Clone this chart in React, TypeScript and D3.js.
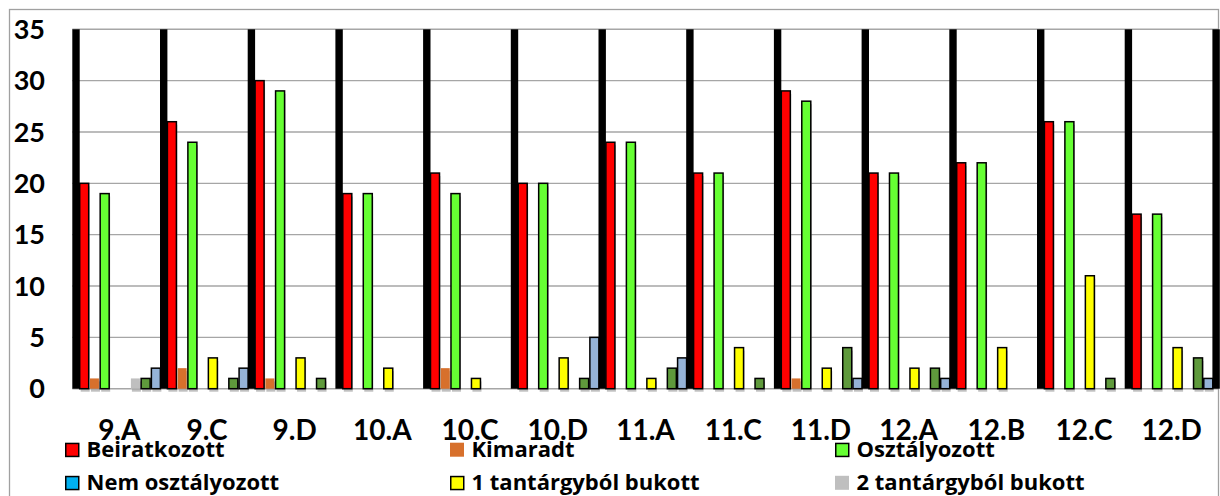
import React from 'react';
import * as d3 from 'd3';

const categories = ['9.A', '9.C', '9.D', '10.A', '10.C', '10.D', '11.A', '11.C', '11.D', '12.A', '12.B', '12.C', '12.D'];
const beiratkozott = [20, 26, 30, 19, 21, 20, 24, 21, 29, 21, 22, 26, 17];
const kimaradt = [1, 2, 1, 0, 2, 0, 0, 0, 1, 0, 0, 0, 0];
const osztalyozott = [19, 24, 29, 19, 19, 20, 24, 21, 28, 21, 22, 26, 17];
const nemOsztalyozott = [0, 0, 0, 0, 0, 0, 0, 0, 0, 0, 0, 0, 0];
const bukott1 = [0, 3, 3, 2, 1, 3, 1, 4, 2, 2, 4, 11, 4];
const bukott2 = [1, 0, 0, 0, 0, 0, 0, 0, 0, 0, 0, 0, 0];
const bukott3 = [1, 1, 1, 0, 0, 1, 2, 1, 4, 2, 0, 1, 3];
const egyeb = [2, 2, 0, 0, 0, 5, 3, 0, 1, 1, 0, 0, 1];
const separatorValue = 35;
const yTicks = [0, 5, 10, 15, 20, 25, 30, 35];

const series = [
  { key: 'Beiratkozott', values: beiratkozott, fill: '#FF0000', stroke: true, legend: true },
  { key: 'Kimaradt', values: kimaradt, fill: '#D7702C', stroke: false, legend: true },
  { key: 'Osztályozott', values: osztalyozott, fill: '#66FF33', stroke: true, legend: true },
  { key: 'Nem osztályozott', values: nemOsztalyozott, fill: '#00B0F0', stroke: true, legend: true },
  { key: '1 tantárgyból bukott', values: bukott1, fill: '#FFFF00', stroke: true, legend: true },
  { key: '2 tantárgyból bukott', values: bukott2, fill: '#BFBFBF', stroke: false, legend: true },
  { key: 'bukott3', values: bukott3, fill: '#5F9A3C', stroke: true, legend: false },
  { key: 'egyeb', values: egyeb, fill: '#95B3D7', stroke: true, legend: false },
];

const W = 1220;
const H = 496;
const plotLeft = 72.3;
const plotRight = 1212.4;
const y = d3.scaleLinear().domain([0, 35]).range([388.7, 29.3]);
const x = d3.scaleBand<string>().domain(categories).range([plotLeft, plotRight]).paddingInner(0).paddingOuter(0);
const slot = d3.scaleBand<string>().domain(series.map(s => s.key)).range([7.4, 7.4 + 8 * 10.24]).paddingInner(0);
const barW = 9;
const sepW = 7.4;

const legendPos = [
  { col: 65, row: 442.7 },
  { col: 450, row: 442.7 },
  { col: 835, row: 442.7 },
  { col: 65, row: 475.8 },
  { col: 450, row: 475.8 },
  { col: 835, row: 475.8 },
];

export default function App() {
  const bands = categories.map(c => x(c) as number);
  const sepXs = [...bands, plotRight];
  const legendSeries = series.filter(s => s.legend);
  return (
    <svg width={W} height={H} style={{ position: 'absolute', left: 0, top: 0, background: '#fff' }}>
      <rect x={9.5} y={9.5} width={1209} height={H + 10} fill="#fff" stroke="#A0A0A0" strokeWidth={1.3} />
      {yTicks.map(t => (
        <line key={'g' + t} x1={plotLeft} x2={1218.5} y1={y(t)} y2={y(t)} stroke="#A6A6A6" strokeWidth={1.4} />
      ))}
      {yTicks.map(t => (
        <text key={'yl' + t} x={45} y={y(t) + 9.7} textAnchor="end" fontFamily="Lato" fontWeight={700} fontSize={27} fill="#000">
          {t}
        </text>
      ))}
      {series.map(s =>
        s.values.map((v, i) =>
          v > 0 ? (
            <rect
              key={'sh' + s.key + i}
              x={(x(categories[i]) as number) + (slot(s.key) as number) + 1}
              y={y(v) + 3}
              width={barW}
              height={y(0) - y(v)}
              fill="#8C8C8C"
              opacity={0.55}
            />
          ) : null
        )
      )}
      {sepXs.map((sx, i) => (
        <rect key={'sep' + i} x={sx} y={y(separatorValue)} width={sepW} height={y(0) - y(separatorValue)} fill="#000" />
      ))}
      {series.map(s =>
        s.values.map((v, i) =>
          v > 0 ? (
            <rect
              key={s.key + i}
              x={(x(categories[i]) as number) + (slot(s.key) as number)}
              y={y(v)}
              width={barW}
              height={y(0) - y(v)}
              fill={s.fill}
              stroke={s.stroke ? '#000' : 'none'}
              strokeWidth={1.5}
            />
          ) : null
        )
      )}
      {categories.map(c => (
        <text key={'xl' + c} x={(x(c) as number) + 47} y={439.5} textAnchor="middle" fontFamily="Lato" fontWeight={700} fontSize={28} fill="#000">
          {c}
        </text>
      ))}
      {legendSeries.map((s, i) => (
        <g key={'lg' + s.key}>
          <rect
            x={legendPos[i].col + (s.stroke ? 0.75 : 0)}
            y={legendPos[i].row + (s.stroke ? 0.75 : 0)}
            width={s.stroke ? 13 : 14}
            height={s.stroke ? 13 : 14}
            fill={s.fill}
            stroke={s.stroke ? '#000' : 'none'}
            strokeWidth={1.5}
          />
          <text x={legendPos[i].col + 21.5} y={legendPos[i].row + 14} fontFamily="Open Sans" fontWeight={700} fontSize={22} fill="#000">
            {s.key}
          </text>
        </g>
      ))}
    </svg>
  );
}
